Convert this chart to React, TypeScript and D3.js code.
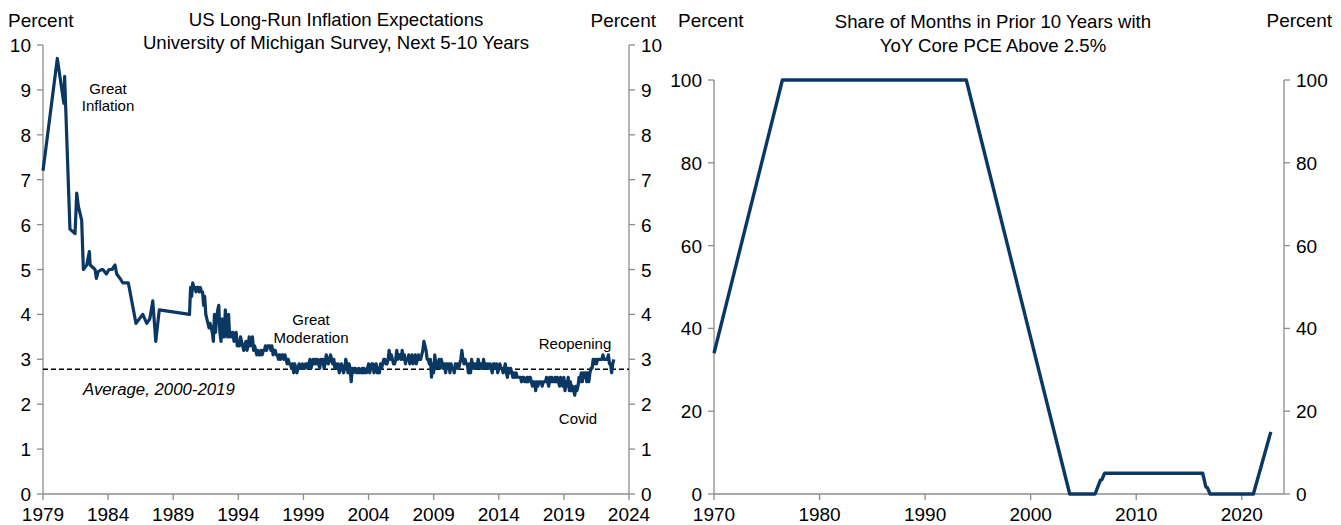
import React from "react";
import * as d3 from "d3";

// ---------- Left chart data: UMich 5-10 year inflation expectations ----------
const earlyDates = [1979.0, 1980.1, 1980.6, 1980.66, 1981.07, 1981.46, 1981.59, 1981.72, 1981.97, 1982.1, 1982.36, 1982.56, 1982.62, 1983.0, 1983.1, 1983.23, 1983.5, 1983.6, 1983.87, 1984.07, 1984.3, 1984.53, 1984.66, 1984.92, 1985.13, 1985.3, 1985.55, 1985.62, 1986.14, 1986.4, 1986.66, 1986.97, 1987.2, 1987.43, 1987.66, 1987.93];
const earlyValues = [7.2, 9.7, 8.7, 9.3, 5.9, 5.8, 6.7, 6.4, 6.1, 5.0, 5.1, 5.4, 5.1, 5.0, 4.8, 4.95, 5.0, 5.0, 4.9, 5.0, 5.0, 5.1, 4.9, 4.8, 4.7, 4.7, 4.7, 4.6, 3.8, 3.9, 4.0, 3.8, 3.9, 4.3, 3.4, 4.1];

// monthly from Apr 1990
const monthlyStart = 1990.25;
const umich1990s = [
  4.0, 4.6, 4.4, 4.7, 4.6, 4.6, 4.5, 4.6, 4.6,
  4.5, 4.6, 4.5, 4.5, 4.2, 4.4, 4.0, 3.9, 3.8, 3.7, 3.8, 3.7,
  3.6, 3.4, 4.0, 3.6, 3.9, 4.1, 4.2, 3.6, 3.4, 3.9, 3.5, 3.5,
  4.1, 3.6, 3.5, 4.0, 3.5, 3.6, 3.5, 3.6, 3.4, 3.5, 3.6, 3.3,
  3.4, 3.3, 3.5, 3.4, 3.3, 3.2, 3.3, 3.4, 3.2, 3.3, 3.5, 3.3,
  3.4, 3.5, 3.2, 3.3, 3.2, 3.1, 3.2, 3.1, 3.1, 3.2, 3.1, 3.2,
  3.2, 3.3, 3.2, 3.3, 3.3, 3.3, 3.2, 3.3, 3.1, 3.2, 3.2, 3.1,
  3.1, 3.0, 3.1, 3.0, 3.1, 3.1, 3.0, 3.1, 3.0, 2.9, 3.0, 2.9,
  2.9, 2.8, 2.9, 2.7, 2.9, 2.8, 2.7, 2.8, 2.9, 2.8, 2.8, 2.9,
  2.8, 2.8, 2.9, 2.9, 2.8, 2.9, 3.0, 2.8, 2.9, 3.0, 2.9, 3.0,
];
const umich2000s = [
  2.9, 3.0, 2.9, 2.8, 3.0, 2.9, 3.0, 2.8, 2.9, 3.1, 3.0, 2.9,
  3.0, 3.1, 3.0, 2.9, 3.0, 2.8, 2.9, 2.8, 2.9, 2.7, 2.8, 2.9,
  2.8, 2.7, 2.8, 3.0, 2.9, 2.7, 2.9, 2.8, 2.5, 2.8, 2.7, 2.8,
  2.8, 2.7, 2.7, 2.8, 2.7, 2.7, 2.8, 2.7, 2.8, 2.7, 2.7, 2.8,
  2.9, 2.7, 2.8, 2.9, 2.9, 2.7, 2.8, 2.9, 2.7, 2.8, 2.7, 2.9,
  2.8, 2.9, 3.0, 3.0, 2.9, 2.9, 3.0, 3.2, 3.0, 3.1, 3.0, 2.9,
  2.9, 3.0, 3.2, 3.0, 3.1, 3.1, 3.0, 3.2, 3.0, 3.1, 2.9, 3.0,
  3.0, 3.1, 2.9, 3.0, 3.1, 2.9, 3.0, 3.1, 2.9, 3.0, 3.1, 3.0,
  3.0, 3.1, 3.2, 3.4, 3.3, 3.2, 3.0, 3.0, 2.9, 3.0, 2.6, 2.9,
  2.7, 3.1, 2.9, 2.8, 2.9, 3.0, 2.8, 3.0, 2.9, 2.8, 2.9, 2.7,
];
const umich2010s = [
  2.9, 2.8, 2.9, 2.7, 2.9, 2.8, 2.8, 2.7, 2.9, 2.8, 2.9, 2.8,
  2.9, 3.0, 3.2, 3.0, 2.9, 3.0, 2.9, 2.9, 2.7, 2.9, 2.7, 3.0,
  2.8, 2.9, 2.8, 2.9, 2.8, 3.0, 2.9, 2.8, 2.9, 2.8, 3.0, 2.8,
  2.9, 2.8, 2.9, 2.8, 2.9, 2.8, 2.7, 2.9, 2.9, 2.8, 2.9, 2.7,
  2.8, 2.9, 2.8, 2.8, 2.7, 2.8, 2.9, 2.7, 2.6, 2.8, 2.7, 2.8,
  2.7, 2.6, 2.7, 2.6, 2.7, 2.6, 2.6, 2.6, 2.6, 2.5, 2.6, 2.6,
  2.5, 2.5, 2.6, 2.5, 2.6, 2.6, 2.5, 2.4, 2.5, 2.5, 2.3, 2.5,
  2.4, 2.5, 2.5, 2.5, 2.4, 2.5, 2.5, 2.5, 2.6, 2.5, 2.4, 2.6,
  2.5, 2.6, 2.5, 2.5, 2.6, 2.5, 2.6, 2.5, 2.4, 2.6, 2.5, 2.4,
  2.6, 2.3, 2.5, 2.4, 2.6, 2.3, 2.5, 2.3, 2.4, 2.3, 2.2, 2.4,
];
const umich2020s = [
  2.3, 2.4, 2.6, 2.5, 2.7, 2.5, 2.7, 2.6, 2.7, 2.5, 2.7, 2.5,
  2.7, 2.8, 2.8, 3.0, 2.9, 3.0, 2.9, 3.0, 3.0, 3.0, 3.0, 3.0,
  3.1, 3.0, 3.0, 3.0, 3.0, 3.1, 2.9, 2.9, 2.7, 2.9, 3.0,
];
const averageLevel = 2.78;
const leftYTicks = [0, 1, 2, 3, 4, 5, 6, 7, 8, 9, 10];
const leftXTicks = [1979, 1984, 1989, 1994, 1999, 2004, 2009, 2014, 2019, 2024];

// ---------- Right chart data: share of months with core PCE > 2.5% ----------
const pceYears = [1970, 1976.48, 1993.9, 2003.7, 2006.1, 2006.6, 2006.75, 2007.0, 2016.3, 2016.6, 2016.75, 2017.0, 2021.1, 2022.75];
const pceShare = [34, 100, 100, 0, 0, 3.3, 3.5, 5, 5, 1.7, 1.5, 0, 0, 15];
const rightYTicks = [0, 20, 40, 60, 80, 100];
const rightXTicks = [1970, 1980, 1990, 2000, 2010, 2020];

const LINE = "#0b3863";
const AXIS = "#8c8c8c";
const FONT = "'Liberation Sans', Arial, sans-serif";
const TICK_FS = 19;
const TITLE_FS = 18.6;
const NOTE_FS = 15;

export default function App() {
  // left chart geometry
  const L = { x0: 43, x1: 629, y0: 494, y1: 45 };
  const lx = d3.scaleLinear().domain([1979, 2024]).range([L.x0, L.x1]);
  const ly = d3.scaleLinear().domain([0, 10]).range([L.y0, L.y1]);

  const monthly = [...umich1990s, ...umich2000s, ...umich2010s, ...umich2020s];
  const leftData: [number, number][] = [
    ...earlyDates.map((d, i) => [d, earlyValues[i]] as [number, number]),
    ...monthly.map((v, i) => [monthlyStart + i / 12, v] as [number, number]),
  ];
  const leftLine = d3
    .line<[number, number]>()
    .x((d) => lx(d[0]))
    .y((d) => ly(d[1]));

  // right chart geometry
  const R = { x0: 714, x1: 1284, y0: 494, y1: 80 };
  const rx = d3.scaleLinear().domain([1970, 2024]).range([R.x0, R.x1]);
  const ry = d3.scaleLinear().domain([0, 100]).range([R.y0, R.y1]);
  const rightData: [number, number][] = pceYears.map((d, i) => [d, pceShare[i]]);
  const rightLine = d3
    .line<[number, number]>()
    .x((d) => rx(d[0]))
    .y((d) => ry(d[1]));

  const txt = { fontFamily: FONT, fill: "#000" } as const;

  return (
    <svg
      width={1341}
      height={525}
      style={{ position: "absolute", left: 0, top: 0, background: "#fff" }}
    >
      {/* ===== LEFT CHART ===== */}
      <text x={8} y={27} fontSize={TICK_FS} {...txt}>Percent</text>
      <text x={656} y={27} fontSize={TICK_FS} textAnchor="end" {...txt}>Percent</text>
      <text x={336} y={26} fontSize={TITLE_FS} textAnchor="middle" {...txt}>US Long-Run Inflation Expectations</text>
      <text x={336} y={49} fontSize={TITLE_FS} textAnchor="middle" {...txt}>University of Michigan Survey, Next 5-10 Years</text>

      {/* axes */}
      <line x1={L.x0} x2={L.x0} y1={L.y1} y2={L.y0} stroke={AXIS} strokeWidth={1.3} />
      <line x1={L.x1} x2={L.x1} y1={L.y1} y2={L.y0} stroke={AXIS} strokeWidth={1.3} />
      <line x1={L.x0} x2={L.x1} y1={L.y0} y2={L.y0} stroke={AXIS} strokeWidth={1.3} />
      {leftYTicks.map((t) => (
        <g key={"ly" + t}>
          <line x1={L.x0 - 6} x2={L.x0} y1={ly(t)} y2={ly(t)} stroke={AXIS} strokeWidth={1.3} />
          <line x1={L.x1} x2={L.x1 + 6} y1={ly(t)} y2={ly(t)} stroke={AXIS} strokeWidth={1.3} />
          <text x={L.x0 - 12} y={ly(t) + 7} fontSize={TICK_FS} textAnchor="end" {...txt}>{t}</text>
          <text x={L.x1 + 12} y={ly(t) + 7} fontSize={TICK_FS} textAnchor="start" {...txt}>{t}</text>
        </g>
      ))}
      {leftXTicks.map((t) => (
        <g key={"lx" + t}>
          <line x1={lx(t)} x2={lx(t)} y1={L.y0} y2={L.y0 + 6} stroke={AXIS} strokeWidth={1.3} />
          <text x={lx(t)} y={L.y0 + 27} fontSize={TICK_FS} textAnchor="middle" {...txt}>{t}</text>
        </g>
      ))}

      {/* average line */}
      <line
        x1={L.x0}
        x2={L.x1}
        y1={ly(averageLevel)}
        y2={ly(averageLevel)}
        stroke="#000"
        strokeWidth={1.5}
        strokeDasharray="5,3"
      />
      <path d={leftLine(leftData) || ""} fill="none" stroke={LINE} strokeWidth={3.2} strokeLinejoin="round" />

      {/* annotations */}
      <text x={108} y={94} fontSize={NOTE_FS} textAnchor="middle" {...txt}>Great</text>
      <text x={108} y={111} fontSize={NOTE_FS} textAnchor="middle" {...txt}>Inflation</text>
      <text x={311} y={325} fontSize={NOTE_FS} textAnchor="middle" {...txt}>Great</text>
      <text x={311} y={343} fontSize={NOTE_FS} textAnchor="middle" {...txt}>Moderation</text>
      <text x={575} y={349} fontSize={NOTE_FS} textAnchor="middle" {...txt}>Reopening</text>
      <text x={578} y={424} fontSize={NOTE_FS} textAnchor="middle" {...txt}>Covid</text>
      <text x={83} y={395} fontSize={16.8} fontStyle="italic" {...txt}>Average, 2000-2019</text>

      {/* ===== RIGHT CHART ===== */}
      <text x={678} y={27} fontSize={TICK_FS} {...txt}>Percent</text>
      <text x={1332} y={27} fontSize={TICK_FS} textAnchor="end" {...txt}>Percent</text>
      <text x={993} y={28} fontSize={TITLE_FS} textAnchor="middle" {...txt}>Share of Months in Prior 10 Years with</text>
      <text x={993} y={52} fontSize={TITLE_FS} textAnchor="middle" {...txt}>YoY Core PCE Above 2.5%</text>

      <line x1={R.x0} x2={R.x0} y1={R.y1} y2={R.y0} stroke={AXIS} strokeWidth={1.3} />
      <line x1={R.x1} x2={R.x1} y1={R.y1} y2={R.y0} stroke={AXIS} strokeWidth={1.3} />
      <line x1={R.x0} x2={R.x1} y1={R.y0} y2={R.y0} stroke={AXIS} strokeWidth={1.3} />
      {rightYTicks.map((t) => (
        <g key={"ry" + t}>
          <line x1={R.x0 - 6} x2={R.x0} y1={ry(t)} y2={ry(t)} stroke={AXIS} strokeWidth={1.3} />
          <line x1={R.x1} x2={R.x1 + 6} y1={ry(t)} y2={ry(t)} stroke={AXIS} strokeWidth={1.3} />
          <text x={R.x0 - 12} y={ry(t) + 7} fontSize={TICK_FS} textAnchor="end" {...txt}>{t}</text>
          <text x={R.x1 + 12} y={ry(t) + 7} fontSize={TICK_FS} textAnchor="start" {...txt}>{t}</text>
        </g>
      ))}
      {rightXTicks.map((t) => (
        <g key={"rx" + t}>
          <line x1={rx(t)} x2={rx(t)} y1={R.y0} y2={R.y0 + 6} stroke={AXIS} strokeWidth={1.3} />
          <text x={rx(t)} y={R.y0 + 27} fontSize={TICK_FS} textAnchor="middle" {...txt}>{t}</text>
        </g>
      ))}
      <path d={rightLine(rightData) || ""} fill="none" stroke={LINE} strokeWidth={3.4} strokeLinejoin="round" />
    </svg>
  );
}
